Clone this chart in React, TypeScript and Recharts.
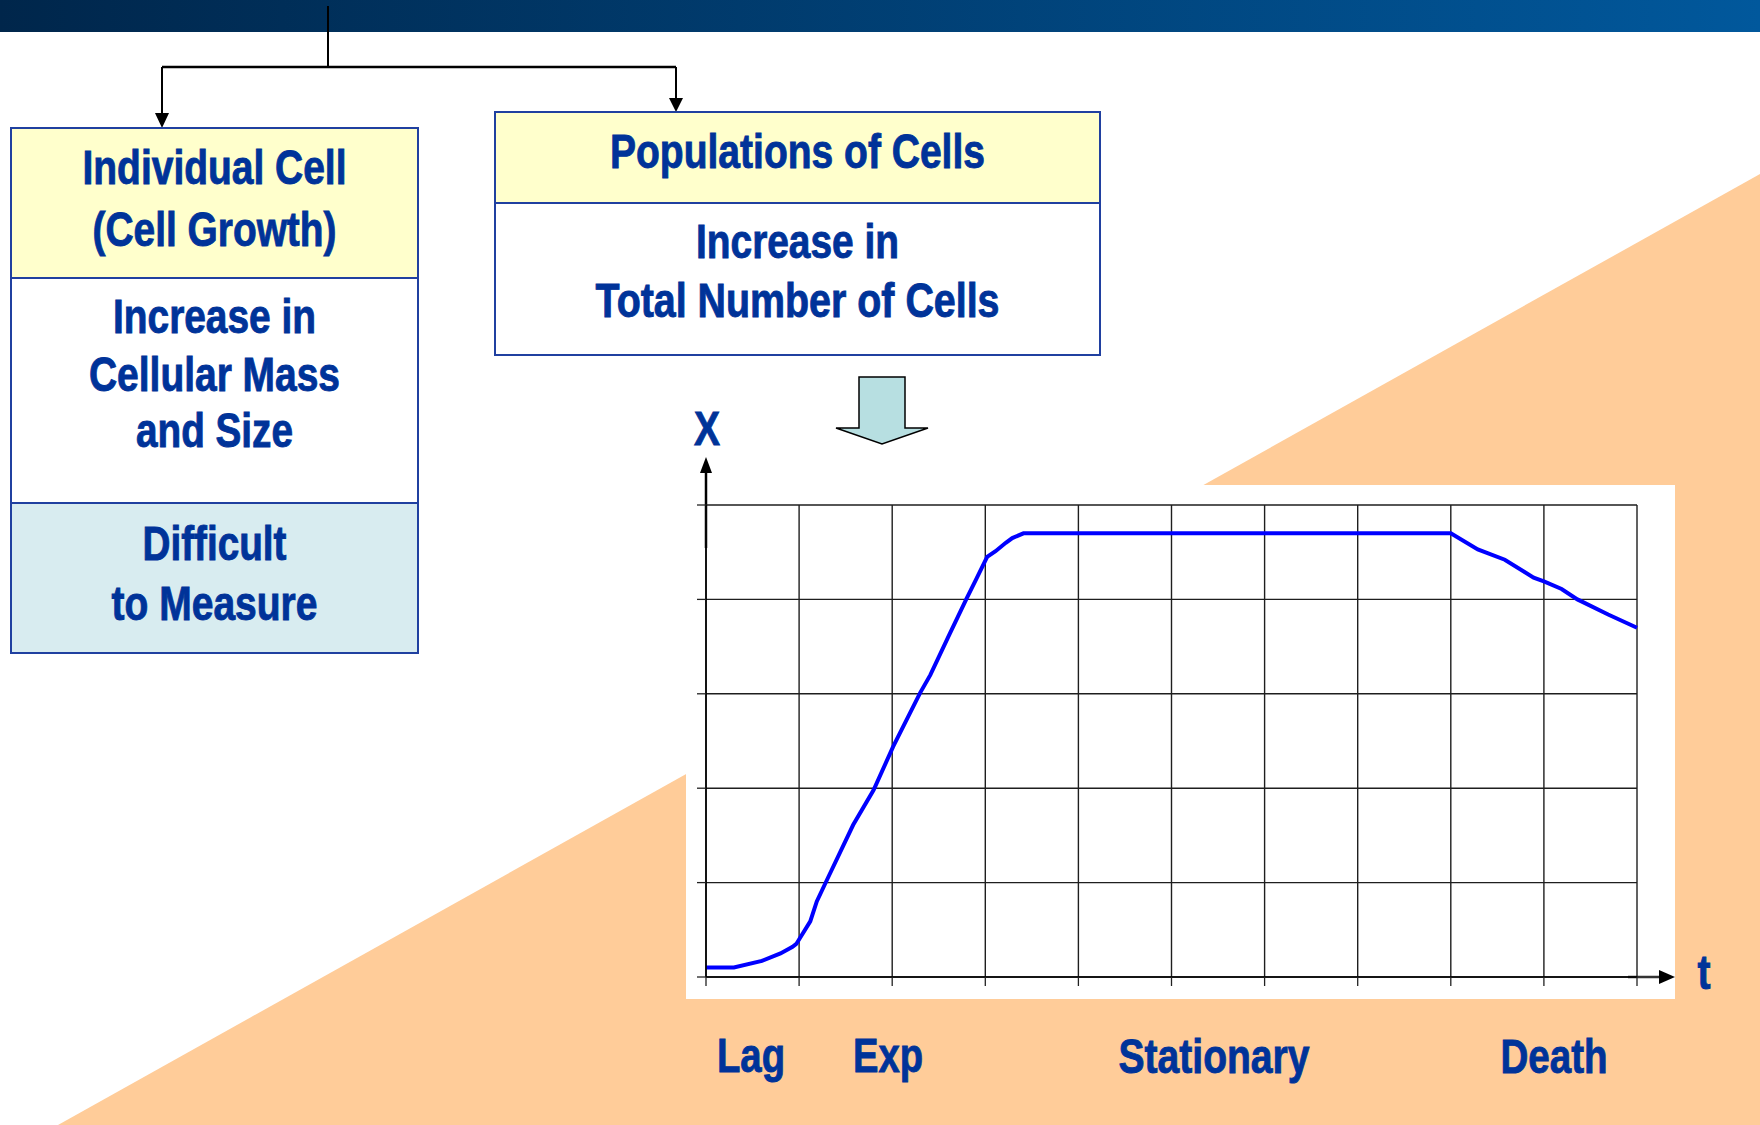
import { CartesianGrid, Line, LineChart, XAxis, YAxis } from 'recharts'

// growth curve: t in grid units, biomass X in grid units
const time = [0, 0.3, 0.6, 0.8, 0.93, 0.97, 1.12, 1.19, 1.3, 1.58, 1.8, 2.01, 2.3, 2.41, 2.62, 2.8, 2.9, 3.02, 3.11, 3.22, 3.29, 3.41, 8.0, 8.29, 8.58, 8.89, 9.0, 9.19, 9.36, 9.69, 10]
const biomass = [0.1, 0.1, 0.17, 0.25, 0.32, 0.35, 0.59, 0.8, 1.03, 1.61, 1.98, 2.44, 3.01, 3.2, 3.64, 4.01, 4.21, 4.45, 4.51, 4.6, 4.65, 4.7, 4.7, 4.53, 4.42, 4.23, 4.19, 4.11, 4.0, 3.84, 3.7]
const timeTicks = [0, 1, 2, 3, 4, 5, 6, 7, 8, 9, 10]
const biomassTicks = [0, 1, 2, 3, 4, 5]

const phases = ['Lag', 'Exp', 'Stationary', 'Death']
const leftBoxLines = ['Individual Cell', '(Cell Growth)', 'Increase in', 'Cellular Mass', 'and Size', 'Difficult', 'to Measure']
const rightBoxLines = ['Populations of Cells', 'Increase in', 'Total Number of Cells']

const FONT = "'Liberation Sans Narrow', 'Arial Narrow', 'Liberation Sans', Arial, sans-serif"
const BLUE = '#003399'
const BORDER = '#2040a0'

function Label({ x, y, w, text, size = 48 }: { x: number; y: number; w: number; text: string; size?: number }) {
  return (
    <text x={x} y={y} textAnchor="middle" textLength={w} lengthAdjust="spacingAndGlyphs"
      fontFamily={FONT} fontWeight="bold" fontSize={size} fill={BLUE} stroke={BLUE} strokeWidth={0.9}>
      {text}
    </text>
  )
}

export default function App() {
  const data = time.map((t, i) => ({ t, x: biomass[i] }))

  const leftPos = [
    { y: 184, w: 264 }, { y: 246, w: 244 }, { y: 333, w: 203 }, { y: 391, w: 251 },
    { y: 447, w: 157 }, { y: 560, w: 144 }, { y: 620, w: 206 },
  ]
  const rightPos = [{ y: 168, w: 375 }, { y: 258, w: 203 }, { y: 317, w: 404 }]
  const phasePos = [{ x: 751, y: 1072, w: 68 }, { x: 888, y: 1072, w: 70 }, { x: 1214, y: 1073, w: 191 }, { x: 1554, y: 1073, w: 107 }]

  return (
    <div style={{ position: 'absolute', left: 0, top: 0, width: 1760, height: 1125, background: '#fff', overflow: 'hidden' }}>
      <svg width={1760} height={1125} style={{ position: 'absolute', left: 0, top: 0 }}>
        <defs>
          <linearGradient id="bar" x1="0" y1="0" x2="1" y2="0">
            <stop offset="0" stopColor="#00264b" />
            <stop offset="1" stopColor="#01589c" />
          </linearGradient>
        </defs>
        <rect x={0} y={0} width={1760} height={32} fill="url(#bar)" />
        <polygon points="58,1125 1760,174 1760,1125" fill="#ffcc99" />
        <rect x={686} y={485} width={989} height={514} fill="#fff" />

        {/* connector */}
        <g stroke="#000" strokeWidth={2} fill="none">
          <line x1={328} y1={6} x2={328} y2={67} />
          <line x1={162} y1={67} x2={676} y2={67} strokeWidth={2.5} />
          <line x1={162} y1={67} x2={162} y2={115} />
          <line x1={676} y1={67} x2={676} y2={100} />
        </g>
        <polygon points="155,113 169,113 162,128" fill="#000" />
        <polygon points="669,98 683,98 676,112" fill="#000" />

        {/* left box */}
        <rect x={11} y={128} width={407} height={150} fill="#ffffcc" />
        <rect x={11} y={278} width={407} height={225} fill="#fff" />
        <rect x={11} y={503} width={407} height={150} fill="#d8ecf0" />
        <g stroke={BORDER} strokeWidth={2} fill="none">
          <rect x={11} y={128} width={407} height={525} />
          <line x1={11} y1={278} x2={418} y2={278} />
          <line x1={11} y1={503} x2={418} y2={503} />
        </g>
        {leftBoxLines.map((s, i) => (
          <Label key={i} x={214.5} y={leftPos[i].y} w={leftPos[i].w} text={s} />
        ))}

        {/* right box */}
        <rect x={495} y={112} width={605} height={91} fill="#ffffcc" />
        <rect x={495} y={203} width={605} height={152} fill="#fff" />
        <g stroke={BORDER} strokeWidth={2} fill="none">
          <rect x={495} y={112} width={605} height={243} />
          <line x1={495} y1={203} x2={1100} y2={203} />
        </g>
        {rightBoxLines.map((s, i) => (
          <Label key={i} x={797.5} y={rightPos[i].y} w={rightPos[i].w} text={s} />
        ))}

        {/* block arrow */}
        <polygon points="859,377 905,377 905,428 928,428 882,444 836,428 859,428"
          fill="#b7dfe1" stroke="#000" strokeWidth={1.5} strokeLinejoin="miter" />

        {/* axis arrows */}
        <line x1={706} y1={548} x2={706} y2={470} stroke="#000" strokeWidth={2.5} />
        <polygon points="700,473 712,473 706,457" fill="#000" />
        <line x1={1628} y1={977} x2={1662} y2={977} stroke="#333" strokeWidth={2.5} />
        <polygon points="1659,970 1659,984 1675,977" fill="#000" />

        <Label x={707} y={445} w={26} text="X" />
        <Label x={1704} y={989} w={13} text="t" />
        {phases.map((s, i) => (
          <Label key={s} x={phasePos[i].x} y={phasePos[i].y} w={phasePos[i].w} text={s} />
        ))}
      </svg>

      <div style={{ position: 'absolute', left: 686, top: 485 }}>
        <LineChart width={990} height={515} data={data} margin={{ top: 20, right: 39, bottom: 0, left: 0 }}>
          <CartesianGrid stroke="#1e1e1e" strokeWidth={1.4} />
          <XAxis dataKey="t" type="number" domain={[0, 10]} ticks={timeTicks} interval={0} height={23}
            tickSize={9} tickFormatter={() => ''} axisLine={{ stroke: '#000', strokeWidth: 1.6 }}
            tickLine={{ stroke: '#222', strokeWidth: 1.3 }} />
          <YAxis type="number" domain={[0, 5]} ticks={biomassTicks} interval={0} width={20}
            tickSize={9} tickFormatter={() => ''} axisLine={{ stroke: '#000', strokeWidth: 1.6 }}
            tickLine={{ stroke: '#222', strokeWidth: 1.3 }} />
          <Line dataKey="x" type="linear" stroke="#0000ff" strokeWidth={4} dot={false} isAnimationActive={false} />
        </LineChart>
      </div>
    </div>
  )
}
